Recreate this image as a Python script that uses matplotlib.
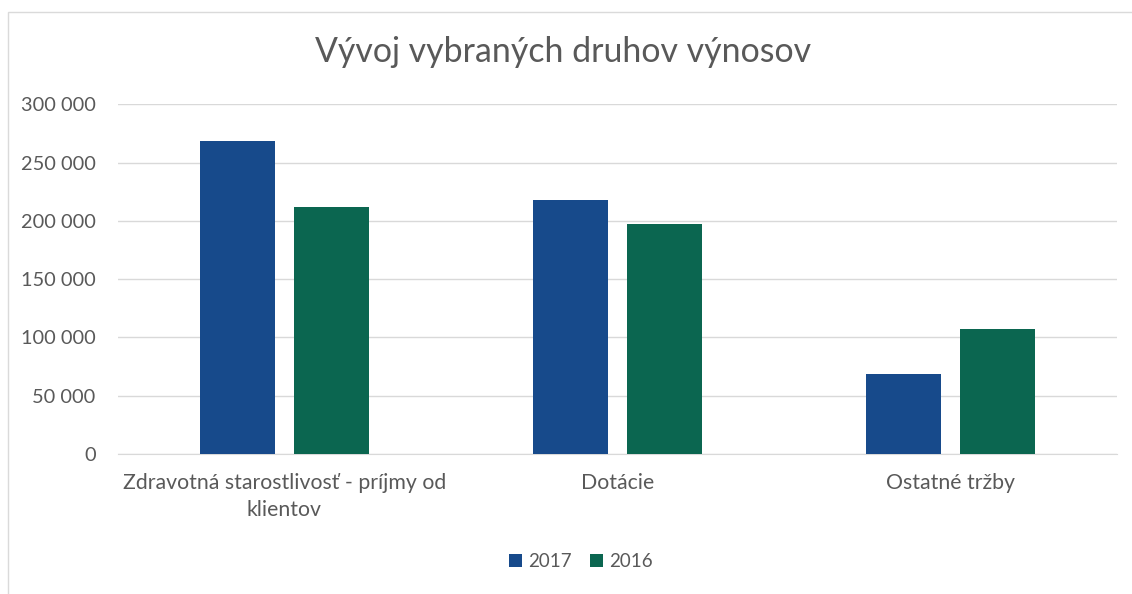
import numpy as np
import matplotlib
matplotlib.use("Agg")
import matplotlib.pyplot as plt
from matplotlib.patches import Rectangle

plt.rcParams["font.family"] = ["Lato", "DejaVu Sans"]

# údaje
categories = ["Zdravotná starostlivosť - príjmy od\nklientov", "Dotácie", "Ostatné tržby"]
years = ["2017", "2016"]
values_2017 = [268500, 218000, 69000]
values_2016 = [212000, 197500, 107500]
yticks = [0, 50000, 100000, 150000, 200000, 250000, 300000]

c_2017 = "#174A8B"
c_2016 = "#0B6650"
grey_txt = "#595959"

fig = plt.figure(figsize=(11.32, 5.94), dpi=100)
ax = fig.add_axes([0.1042, 0.2357, 0.8825, 0.5887])

# jemný rámček grafu
fig.patches.append(Rectangle((8 / 1132, -0.05), 1.1, 1 - 12 / 594 + 0.05,
                             transform=fig.transFigure, fill=False,
                             edgecolor="#DADADA", linewidth=1.0))

x = np.arange(len(categories))
w = 0.225
off = 0.141
ax.bar(x - off, values_2017, w, color=c_2017, label=years[0], zorder=3)
ax.bar(x + off, values_2016, w, color=c_2016, label=years[1], zorder=3)

ax.set_xlim(-0.5, 2.5)
ax.set_ylim(0, 300000)
ax.set_yticks(yticks)
ax.set_yticklabels([f"{v:,}".replace(",", " ") for v in yticks])
ax.set_xticks(x)
ax.set_xticklabels(categories, linespacing=1.4)

ax.grid(axis="y", color="#D9D9D9", linewidth=1.0, zorder=0)
for s in ["top", "right", "left"]:
    ax.spines[s].set_visible(False)
ax.spines["bottom"].set_color("#D9D9D9")
ax.tick_params(axis="both", length=0, colors=grey_txt)
ax.tick_params(axis="y", pad=16, labelsize=14.4)
ax.tick_params(axis="x", pad=14, labelsize=15.3)

fig.text(0.497, 0.913, "Vývoj vybraných druhov výnosov", ha="center", va="center",
         fontsize=24.4, color=grey_txt)

leg = fig.legend(loc="center", bbox_to_anchor=(0.513, 0.054), ncol=2, frameon=False,
                 fontsize=13.5, handlelength=0.7, handleheight=0.7, handletextpad=0.3,
                 columnspacing=1.0)
for t in leg.get_texts():
    t.set_color(grey_txt)

fig.savefig("out.png", dpi=100, facecolor="white")
